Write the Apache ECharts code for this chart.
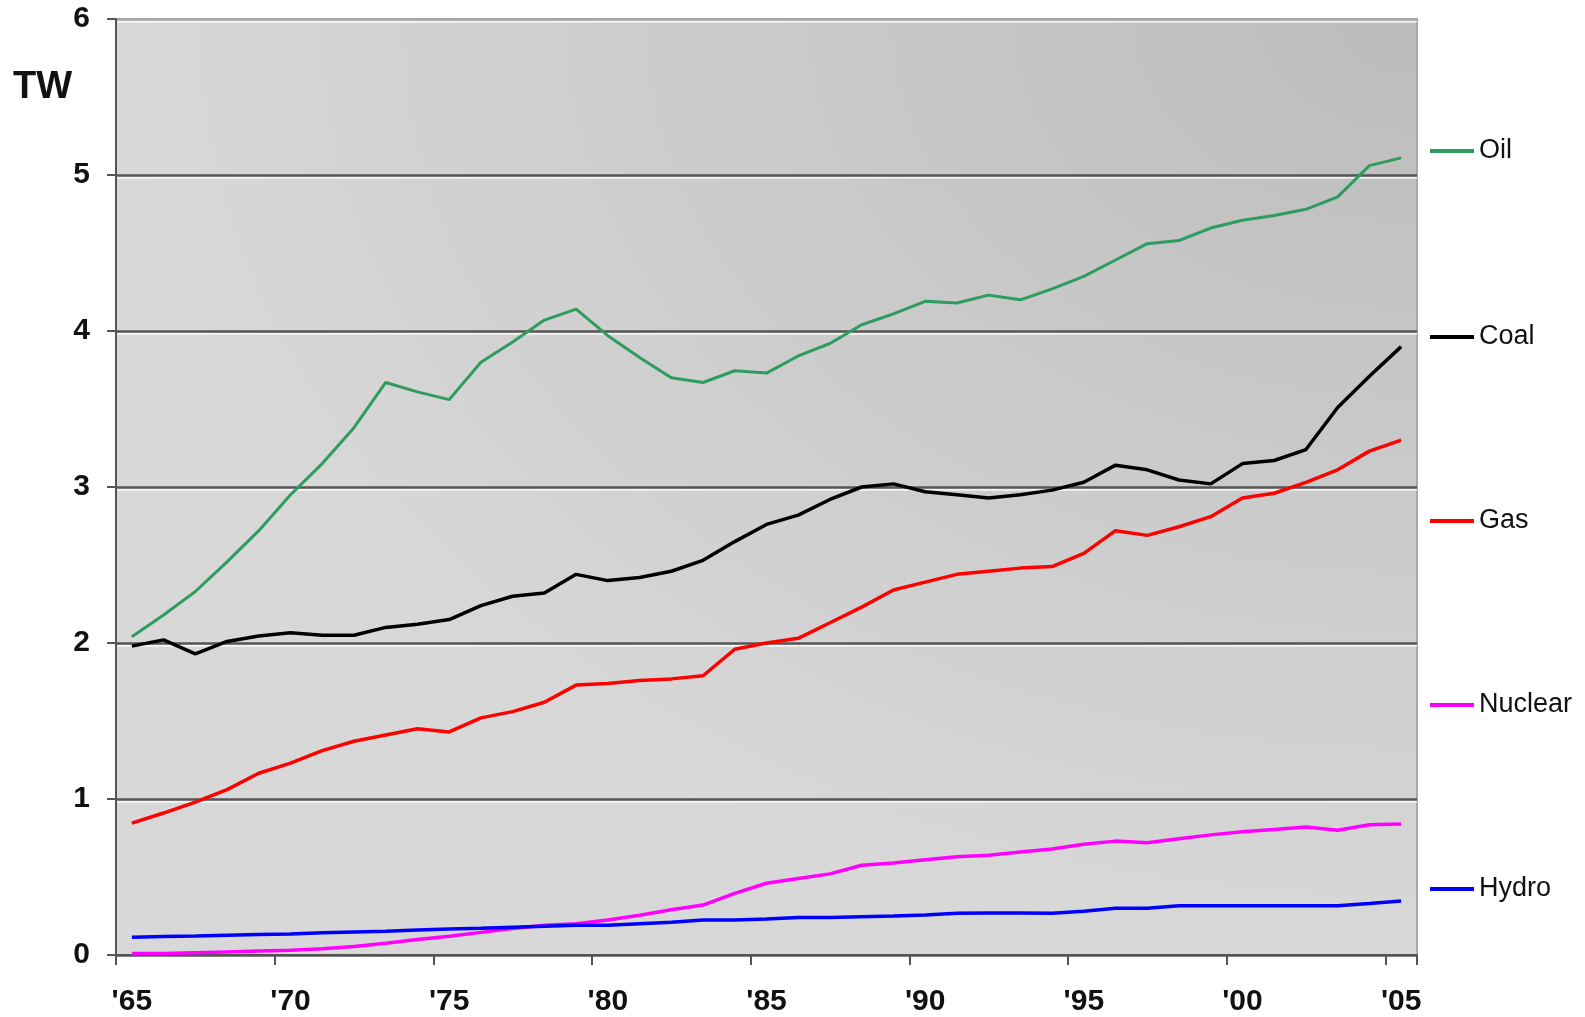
<!DOCTYPE html>
<html>
<head>
<meta charset="utf-8">
<script src="https://cdn.jsdelivr.net/npm/echarts@6/dist/echarts.min.js"></script>
<style>
html,body{margin:0;padding:0;background:#fff;}
#chart{width:1585px;height:1017px;}
</style>
</head>
<body>
<div id="chart"></div>
<script>
// Years 1965..2005
const years = [];
for (let y = 1965; y <= 2005; y++) years.push(y);
const yearLabels = years.map(y => "'" + String(y).slice(2));

const oil = [2.04,2.18,2.33,2.52,2.72,2.95,3.15,3.38,3.67,3.61,3.56,3.80,3.93,4.07,4.14,3.97,3.83,3.70,3.67,3.745,3.73,3.84,3.92,4.04,4.11,4.19,4.18,4.23,4.20,4.27,4.35,4.455,4.56,4.58,4.66,4.71,4.74,4.78,4.86,5.06,5.11];
const coal = [1.98,2.02,1.93,2.01,2.045,2.066,2.05,2.05,2.10,2.12,2.15,2.24,2.30,2.32,2.44,2.40,2.42,2.46,2.53,2.65,2.76,2.82,2.92,3.00,3.02,2.97,2.95,2.93,2.95,2.98,3.03,3.14,3.11,3.045,3.02,3.15,3.17,3.24,3.51,3.71,3.90];
const gas = [0.845,0.91,0.98,1.06,1.165,1.23,1.31,1.37,1.41,1.45,1.43,1.52,1.56,1.62,1.73,1.74,1.76,1.77,1.79,1.96,2.00,2.03,2.13,2.23,2.34,2.39,2.44,2.46,2.48,2.49,2.575,2.72,2.69,2.745,2.81,2.93,2.96,3.03,3.11,3.23,3.30];
const nuclear = [0.01,0.01,0.015,0.02,0.025,0.03,0.04,0.055,0.075,0.10,0.12,0.145,0.17,0.19,0.20,0.225,0.255,0.29,0.32,0.395,0.46,0.49,0.52,0.575,0.59,0.61,0.63,0.64,0.66,0.68,0.71,0.73,0.72,0.745,0.77,0.79,0.805,0.82,0.80,0.835,0.84];
const hydro = [0.113,0.118,0.122,0.127,0.131,0.135,0.142,0.148,0.153,0.16,0.167,0.172,0.178,0.184,0.19,0.19,0.20,0.21,0.225,0.225,0.23,0.24,0.24,0.245,0.25,0.256,0.267,0.27,0.27,0.268,0.28,0.30,0.30,0.315,0.315,0.315,0.315,0.315,0.315,0.33,0.346];

const seriesNames = ['Oil','Coal','Gas','Nuclear','Hydro'];
const seriesData = [oil, coal, gas, nuclear, hydro];
const seriesColors = ['#2e9b5f','#000000','#ff0000','#ff00ff','#0000ff'];
const legendCenters = [151, 337, 521, 705, 889];
const yTicks = [0,1,2,3,4,5,6];

const chart = echarts.init(document.getElementById('chart'), null, {renderer:'canvas'});

const gridL = 116, gridT = 19, gridW = 1301, gridH = 936;

const option = {
  animation: false,
  backgroundColor: '#ffffff',
  textStyle: {fontFamily: 'Liberation Sans, Arial, sans-serif'},
  grid: {
    left: gridL, top: gridT, width: gridW, height: gridH,
    show: true,
    backgroundColor: 'transparent',
    borderColor: '#a6a6a6',
    borderWidth: 2
  },
  graphic: [
    {
      type: 'rect',
      z: -10,
      silent: true,
      x: gridL, y: gridT,
      scaleX: gridW / gridH,
      shape: {x: 0, y: 0, width: gridH, height: gridH},
      style: {
        fill: {
          type: 'radial', x: 1, y: 0, r: 1,
          colorStops: [{offset: 0, color: '#bcbcbc'}, {offset: 1, color: '#d8d8d8'}]
        }
      }
    },
    {
      type: 'text',
      left: 13, top: 69,
      style: {text: 'TW', font: 'bold 38px "Liberation Sans", Arial, sans-serif', fill: '#111'}
    }
  ],
  legend: seriesNames.map((n, i) => ({
    data: [n],
    left: 1430,
    top: legendCenters[i] - 15,
    padding: 0,
    itemGap: 0,
    itemWidth: 44,
    itemHeight: 4,
    icon: 'rect',
    selectedMode: false,
    textStyle: {fontSize: 27, lineHeight: 30, color: '#111', fontFamily: 'Liberation Sans, Arial, sans-serif'}
  })),
  xAxis: {
    type: 'category',
    data: yearLabels,
    boundaryGap: true,
    axisLine: {show: true, lineStyle: {color: '#555', width: 2}},
    axisTick: {show: true, interval: 4, length: 10, lineStyle: {color: '#555', width: 2}},
    axisLabel: {interval: 4, margin: 32, fontSize: 30, fontWeight: 'bold', color: '#111', fontFamily: 'Liberation Sans, Arial, sans-serif'},
    splitLine: {show: false}
  },
  yAxis: {
    type: 'value',
    min: yTicks[0], max: yTicks[yTicks.length - 1], interval: 1,
    axisLine: {show: true, lineStyle: {color: '#555', width: 2}},
    axisTick: {show: true, length: 9, lineStyle: {color: '#555', width: 2}},
    axisLabel: {margin: 26, fontSize: 30, fontWeight: 'bold', color: '#111', fontFamily: 'Liberation Sans, Arial, sans-serif'},
    splitLine: {
      show: true,
      lineStyle: {
        color: ['#555','#555','#555','#555','#555','#555','#a6a6a6'],
        width: 2.5,
        shadowColor: 'rgba(255,255,255,0.75)',
        shadowOffsetY: 2,
        shadowBlur: 0
      }
    }
  },
  series: seriesNames.map((n, i) => ({
    name: n,
    type: 'line',
    data: seriesData[i],
    symbol: 'none',
    smooth: false,
    color: seriesColors[i],
    lineStyle: {width: i === 0 ? 3 : 3.5, color: seriesColors[i]},
    itemStyle: {color: seriesColors[i]}
  }))
};

chart.setOption(option);
</script>
</body>
</html>
